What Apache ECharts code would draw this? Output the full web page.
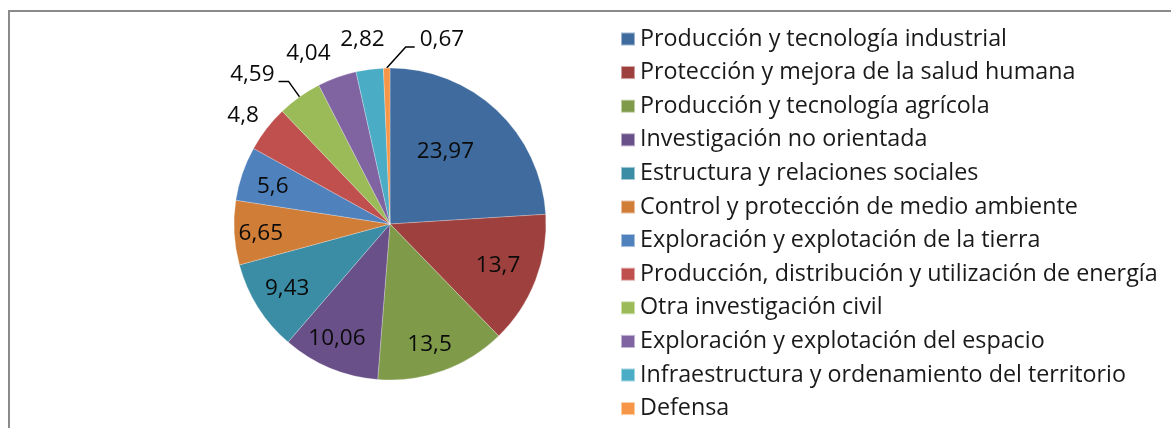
<!DOCTYPE html>
<html>
<head>
<meta charset="utf-8">
<script src="https://cdn.jsdelivr.net/npm/echarts@6/dist/echarts.min.js"></script>
<style>
html,body{margin:0;padding:0;background:#fff;}
#chart{width:1171px;height:428px;}
</style>
</head>
<body>
<div id="chart"></div>
<script>
const categories = [
  'Producción y tecnología industrial',
  'Protección y mejora de la salud humana',
  'Producción y tecnología agrícola',
  'Investigación no orientada',
  'Estructura y relaciones sociales',
  'Control y protección de medio ambiente',
  'Exploración y explotación de la tierra',
  'Producción, distribución y utilización de energía',
  'Otra investigación civil',
  'Exploración y explotación del espacio',
  'Infraestructura y ordenamiento del territorio',
  'Defensa'
];
const values = [23.97, 13.7, 13.5, 10.06, 9.43, 6.65, 5.6, 4.8, 4.59, 4.04, 2.82, 0.67];
const colors = ['#3F6B9E', '#9E413E', '#7F9B4A', '#6A5088', '#3A8DA5', '#D07D38',
                '#4F81BD', '#C0504D', '#9BBB59', '#8064A2', '#4BACC6', '#F79646'];

const CX = 390, CY = 224, R = 156;
const FONT = '"Open Sans", "Noto Sans", sans-serif';
const insideCount = 7;
const insideScale = [1.18, 1.43, 1.55, 1.54, 1.50, 1.61, 1.53];
const withLine = [8, 11];
const nudge = {0: [-10, -3], 2: [-3, 2], 3: [-5, -1], 5: [1, 2], 6: [0, 3], 7: [0, 5], 9: [-19, 3], 10: [-4, -6]};

const data = categories.map((name, i) => ({
  name: name,
  value: values[i],
  itemStyle: {color: colors[i]},
  label: {position: i < insideCount ? 'inside' : 'outside'},
  labelLine: {
    show: i >= insideCount,
    lineStyle: {color: withLine.indexOf(i) >= 0 ? '#000' : 'rgba(0,0,0,0)', width: 1.5}
  }
}));

const chart = echarts.init(document.getElementById('chart'), null, {renderer: 'canvas'});
chart.setOption({
  animation: false,
  backgroundColor: '#fff',
  graphic: [{
    type: 'rect',
    shape: {x: 9, y: 11, width: 1400, height: 600},
    style: {fill: 'none', stroke: '#8a8a8a', lineWidth: 2},
    silent: true
  }],
  legend: {
    orient: 'vertical',
    left: 620,
    top: 27.5,
    height: 400,
    padding: 0,
    icon: 'rect',
    itemWidth: 14,
    itemHeight: 13,
    itemGap: 10.6,
    textStyle: {fontFamily: FONT, fontSize: 23.3, color: '#1a1a1a', lineHeight: 23},
    data: categories
  },
  series: [{
    type: 'pie',
    center: [CX, CY],
    radius: R,
    startAngle: 90,
    clockwise: true,
    avoidLabelOverlap: false,
    itemStyle: {borderColor: 'rgba(255,255,255,0.5)', borderWidth: 0.5},
    label: {
      fontFamily: FONT, fontSize: 22.5, lineHeight: 22, color: '#0a0a0a',
      formatter: p => String(p.value).replace('.', ',')
    },
    labelLine: {length: 19, length2: 10},
    labelLayout: function (p) {
      const i = p.dataIndex;
      const r = p.labelRect;
      const lx = r.x + r.width / 2, ly = r.y + r.height / 2;
      const n = nudge[i] || [0, 0];
      if (i < insideCount) {
        const k = insideScale[i];
        return {dx: (k - 1) * (lx - CX) + n[0], dy: (k - 1) * (ly - CY) + n[1]};
      }
      const pts = p.labelLinePoints;
      if (!pts) return {};
      const p0 = pts[0];
      let ux = p0[0] - CX, uy = p0[1] - CY;
      const d = Math.hypot(ux, uy); ux /= d; uy /= d;
      if (i === 8) {
        const p1 = [p0[0] + ux * 19, p0[1] + uy * 19];
        const p2 = [p1[0] - 10, p1[1]];
        return {x: p2[0] - 4, y: p2[1] - 7, align: 'right', verticalAlign: 'middle', labelLinePoints: [p0, p1, p2]};
      }
      if (i === 11) {
        const p1 = [p0[0] + 19, p0[1] - 21];
        const p2 = [p1[0] + 9, p1[1]];
        return {x: p2[0] + 5, y: p2[1] - 7, align: 'left', verticalAlign: 'middle', labelLinePoints: [p0, p1, p2]};
      }
      const ext = Math.abs(ux) * r.width / 2 + Math.abs(uy) * r.height / 2;
      const dist = R + 10 + ext;
      return {x: CX + ux * dist + n[0], y: CY + uy * dist + n[1], align: 'center', verticalAlign: 'middle',
              labelLinePoints: [p0, p0, p0]};
    },
    data: data
  }]
});
</script>
</body>
</html>
